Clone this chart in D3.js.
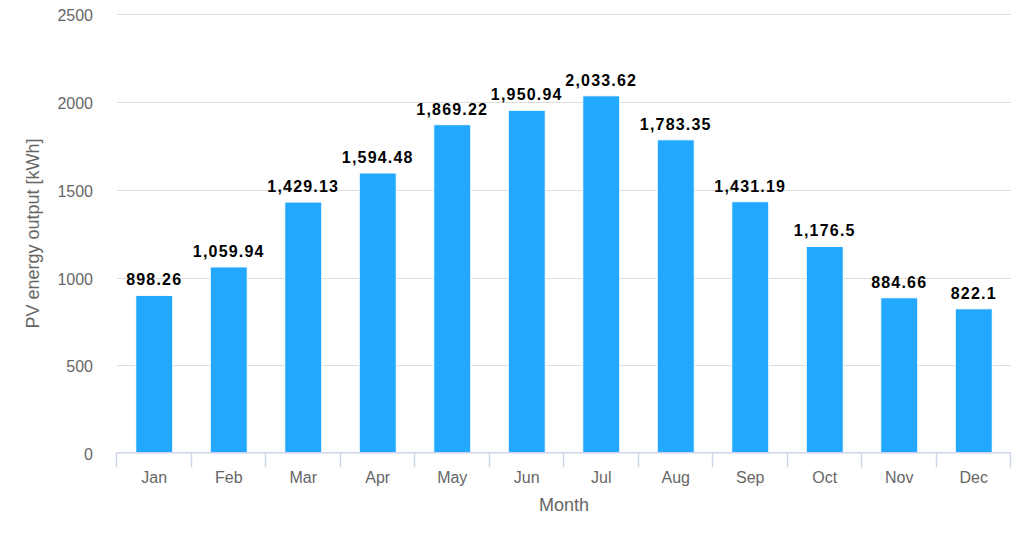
<!DOCTYPE html>
<html><head><meta charset="utf-8">
<script src="https://cdn.jsdelivr.net/npm/d3@7"></script>
<style>body{margin:0;background:#fff;} text{font-family:"Liberation Sans",Arial,Helvetica,sans-serif;}</style>
</head><body>
<svg id="c" width="1024" height="538"></svg>
<script>
const months = ["Jan","Feb","Mar","Apr","May","Jun","Jul","Aug","Sep","Oct","Nov","Dec"];
const output = [898.26,1059.94,1429.13,1594.48,1869.22,1950.94,2033.62,1783.35,1431.19,1176.5,884.66,822.1];
const yTicks = [0,500,1000,1500,2000,2500];

(function(){
const svg = d3.select("#c");
const pL = 117, pR = 1011, pT = 13.8, pB = 453.3;
const x = d3.scaleBand().domain(months).range([pL, pR]);
const y = d3.scaleLinear().domain([0,2500]).range([pB, pT]);

// gridlines
svg.append("g").selectAll("line").data(yTicks.filter(d=>d>0)).join("line")
  .attr("x1", pL).attr("x2", pR)
  .attr("y1", d=>Math.round(y(d))+0.5).attr("y2", d=>Math.round(y(d))+0.5)
  .attr("stroke", "#dddddd").attr("stroke-width", 1);

// y labels
svg.append("g").selectAll("text").data(yTicks).join("text")
  .attr("x", 93).attr("y", d=>y(d)+7)
  .attr("text-anchor","end").attr("fill","#666").attr("font-size","16px")
  .text(d=>d);

// bars
const bw = 37;
svg.append("g").selectAll("rect").data(output).join("rect")
  .attr("x", (d,i)=>x(months[i]) + x.bandwidth()/2 - bw/2)
  .attr("y", d=>y(d))
  .attr("width", bw)
  .attr("height", d=>pB - y(d))
  .attr("fill", "#23a8ff")
  .attr("stroke", "#ffffff").attr("stroke-width", 1);

// data labels
const fmt = d3.format(",");
svg.append("g").selectAll("text").data(output).join("text")
  .attr("x", (d,i)=>x(months[i]) + x.bandwidth()/2)
  .attr("y", d=>y(d) - 10)
  .attr("text-anchor","middle").attr("font-size","16px").attr("font-weight","bold")
  .attr("fill","#000").attr("letter-spacing","1.2px")
  .text(d=>fmt(d));

// x axis line
svg.append("line").attr("x1", pL-1).attr("x2", pR).attr("y1", pB-0.5).attr("y2", pB-0.5)
  .attr("stroke","#ccd6eb").attr("stroke-width",1.5);
// ticks
const tickPos = months.map(m=>x(m)).concat([pR]);
svg.append("g").selectAll("line").data(tickPos).join("line")
  .attr("x1", d=>Math.round(d)-0.5).attr("x2", d=>Math.round(d)-0.5)
  .attr("y1", pB).attr("y2", pB+14)
  .attr("stroke","#ccd6eb").attr("stroke-width",1.5);
// x labels
svg.append("g").selectAll("text").data(months).join("text")
  .attr("x", m=>x(m)+x.bandwidth()/2).attr("y", 483)
  .attr("text-anchor","middle").attr("fill","#666").attr("font-size","16px")
  .text(m=>m);

// titles
svg.append("text").attr("x", (pL+pR)/2).attr("y", 511)
  .attr("text-anchor","middle").attr("fill","#666").attr("font-size","18px").text("Month");
svg.append("text").attr("transform", `translate(39,${(pT+pB)/2}) rotate(-90)`)
  .attr("text-anchor","middle").attr("fill","#666").attr("font-size","18px").text("PV energy output [kWh]");
})();
</script>
</body></html>
